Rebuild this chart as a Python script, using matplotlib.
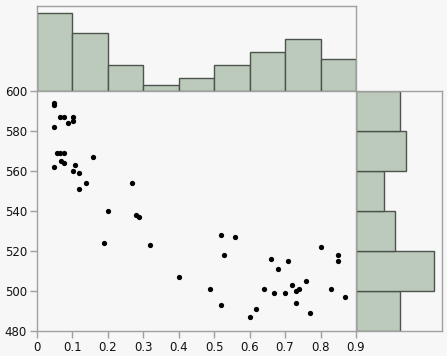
import numpy as np
import matplotlib
matplotlib.use("Agg")
import matplotlib.pyplot as plt

# Scatter data
x_vals = [0.048, 0.048, 0.049, 0.065, 0.076, 0.101, 0.101, 0.088,
          0.056, 0.066, 0.077, 0.068, 0.077, 0.049, 0.159, 0.108,
          0.101, 0.119, 0.139, 0.119, 0.268, 0.202, 0.280, 0.288,
          0.190, 0.319, 0.402, 0.519, 0.559, 0.528, 0.489, 0.519,
          0.600, 0.618, 0.640, 0.660, 0.669, 0.680, 0.700, 0.708,
          0.719, 0.731, 0.739, 0.731, 0.759, 0.770, 0.800, 0.829,
          0.849, 0.849, 0.869]
y_vals = [594, 593, 582, 587, 587, 587, 585, 584,
          569, 569, 569, 565, 564, 562, 567, 563,
          560, 559, 554, 551, 554, 540, 538, 537,
          524, 523, 507, 528, 527, 518, 501, 493,
          487, 491, 501, 516, 499, 511, 499, 515,
          503, 500, 501, 494, 505, 489, 522, 501,
          518, 515, 497]

x_bins = [0.0, 0.1, 0.2, 0.3, 0.4, 0.5, 0.6, 0.7, 0.8, 0.9]
y_bins = [480, 500, 520, 540, 560, 580, 600]
x_ticks = [0, 0.1, 0.2, 0.3, 0.4, 0.5, 0.6, 0.7, 0.8, 0.9]
x_tick_labels = ["0", "0.1", "0.2", "0.3", "0.4", "0.5", "0.6", "0.7", "0.8", "0.9"]
y_ticks = [480, 500, 520, 540, 560, 580, 600]

bg = "#f7f7f7"
bar_face = "#bccabc"
bar_edge = "#4d544d"
spine_c = "#a0a0a0"

W, H = 447, 356
fig = plt.figure(figsize=(W / 100, H / 100), dpi=100, facecolor=bg)

def frac(l, t, r, b):
    return [l / W, 1 - b / H, (r - l) / W, (b - t) / H]

ax = fig.add_axes(frac(36.7, 91, 356, 331), facecolor=bg)
ax_top = fig.add_axes(frac(36.7, 6, 356, 91), facecolor=bg)
ax_right = fig.add_axes(frac(356, 91, 441.7, 331), facecolor=bg)

ax.plot(x_vals, y_vals, "o", color="black", ms=3.8, mew=0)
ax.set_xlim(0, 0.9)
ax.set_ylim(480, 600)
ax.set_xticks(x_ticks)
ax.set_xticklabels(x_tick_labels)
ax.set_yticks(y_ticks)
ax.tick_params(axis="both", direction="out", length=5, width=1, color=spine_c,
               labelsize=8.5, labelcolor="#111111", pad=2)
for s in ax.spines.values():
    s.set_color(spine_c)
    s.set_linewidth(1)
ax.spines["top"].set_visible(False)
ax.spines["right"].set_visible(False)

# Top histogram
xc, _ = np.histogram(x_vals, bins=x_bins)
ax_top.bar(x_bins[:-1], xc, width=np.diff(x_bins), align="edge",
           color=bar_face, edgecolor=bar_edge, linewidth=1)
ax_top.set_xlim(0, 0.9)
ax_top.set_ylim(0, xc.max() * 85 / 77.7)
ax_top.set_xticks([])
ax_top.set_yticks([])
for s in ax_top.spines.values():
    s.set_color(spine_c)
    s.set_linewidth(1)

# Right histogram
yc, _ = np.histogram(y_vals, bins=y_bins)
ax_right.barh(y_bins[:-1], yc, height=np.diff(y_bins), align="edge",
              color=bar_face, edgecolor=bar_edge, linewidth=1)
ax_right.set_ylim(480, 600)
ax_right.set_xlim(0, yc.max() * 85.7 / 77.7)
ax_right.set_xticks([])
ax_right.set_yticks([])
for s in ax_right.spines.values():
    s.set_color(spine_c)
    s.set_linewidth(1)

fig.savefig("out.png", dpi=100, facecolor=bg)
